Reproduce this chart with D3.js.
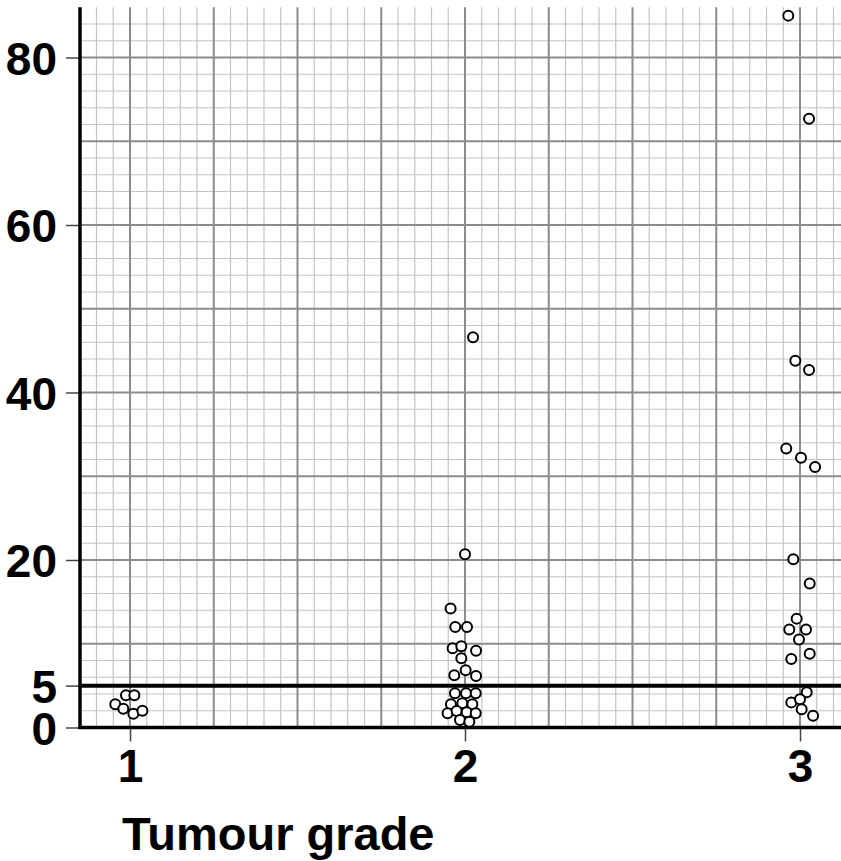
<!DOCTYPE html>
<html>
<head>
<meta charset="utf-8">
<script src="https://cdn.jsdelivr.net/npm/d3@7"></script>
<style>
  html, body { margin: 0; padding: 0; background: #fff; }
  svg { display: block; }
  text { font-family: "Liberation Sans", Arial, sans-serif; font-weight: bold; fill: #000; }
</style>
</head>
<body>
<svg id="chart" width="841" height="861"></svg>
<script>
/* ── data ────────────────────────────────────────────────────────── */

const grades = [1, 2, 3];
const yTicks = [0, 5, 20, 40, 60, 80];
const threshold = 5;
const xTitle = 'Tumour grade';

// jittered grade position / measured value, one pair per patient
const grade1X = [0.988, 1.013, 0.956, 0.980, 1.010, 1.037];
const grade1Y = [3.84, 3.84, 2.77, 2.24, 1.65, 2.00];

const grade2X = [2.024, 2.000, 1.957, 1.971, 2.006, 1.963, 1.989, 2.033, 1.989, 2.002,
                 1.968, 2.033, 1.970, 2.003, 2.032, 1.958, 1.992, 2.022, 1.948, 1.975,
                 2.005, 2.032, 1.985, 2.013];
const grade2Y = [46.6, 20.7, 14.2, 12.0, 12.0, 9.46, 9.70, 9.17, 8.26, 6.83,
                 6.23, 6.15, 4.08, 4.08, 4.08, 2.77, 2.89, 2.77, 1.70, 1.97,
                 1.81, 1.70, 0.90, 0.69];

const grade3X = [2.965, 3.027, 2.986, 3.027, 2.959, 3.003, 3.045, 2.980, 3.029, 2.990,
                 2.968, 3.018, 2.997, 3.029, 2.974, 3.020, 2.974, 3.000, 3.005, 3.039];
const grade3Y = [85.0, 72.7, 43.8, 42.7, 33.3, 32.2, 31.1, 20.1, 17.2, 13.0,
                 11.7, 11.7, 10.5, 8.81, 8.18, 4.20, 3.00, 3.37, 2.17, 1.41];

/* ── layout ──────────────────────────────────────────────────────── */

const W = 841, H = 861;
const plotLeft = 80, plotTop = 7.3, plotBottom = 727.5;

const svg = d3.select('#chart');

const x = d3.scaleLinear().domain([1, 3]).range([130, 800]);
const y = d3.scaleLinear().domain([0, 80]).range([plotBottom, 57.5]);

const xMax = x.invert(W);
const yMax = y.invert(plotTop);

/* ── graph-paper grid ────────────────────────────────────────────── */

const grid = svg.append('g').attr('class', 'grid');
const snap = v => Math.round(v * 1000) / 1000;

const vMinor = d3.range(0.85, xMax, 0.05).map(snap).filter(v => Math.round(v * 100) % 25 !== 0);
const vMajor = d3.range(1, xMax, 0.25).map(snap);
const hMinor = d3.range(2, yMax, 2).filter(v => v % 10 !== 0);
const hMajor = d3.range(10, yMax, 10);

grid.selectAll('line.vmin').data(vMinor).join('line')
  .attr('class', 'vmin')
  .attr('x1', d => x(d)).attr('x2', d => x(d))
  .attr('y1', plotTop).attr('y2', plotBottom)
  .attr('stroke', '#c4c4c4').attr('stroke-width', 1.2);

grid.selectAll('line.hmin').data(hMinor).join('line')
  .attr('class', 'hmin')
  .attr('x1', plotLeft).attr('x2', W)
  .attr('y1', d => y(d)).attr('y2', d => y(d))
  .attr('stroke', '#c4c4c4').attr('stroke-width', 1.2);

grid.selectAll('line.vmaj').data(vMajor).join('line')
  .attr('class', 'vmaj')
  .attr('x1', d => x(d)).attr('x2', d => x(d))
  .attr('y1', plotTop).attr('y2', plotBottom)
  .attr('stroke', '#8c8c8c').attr('stroke-width', 2);

grid.selectAll('line.hmaj').data(hMajor).join('line')
  .attr('class', 'hmaj')
  .attr('x1', plotLeft).attr('x2', W)
  .attr('y1', d => y(d)).attr('y2', d => y(d))
  .attr('stroke', '#8c8c8c').attr('stroke-width', 2);

/* ── threshold line ──────────────────────────────────────────────── */

svg.append('line')
  .attr('x1', plotLeft).attr('x2', W)
  .attr('y1', y(threshold)).attr('y2', y(threshold))
  .attr('stroke', '#000').attr('stroke-width', 4);

/* ── axes ────────────────────────────────────────────────────────── */

const yAxis = svg.append('g')
  .attr('transform', `translate(${plotLeft},0)`)
  .call(d3.axisLeft(y).tickValues(yTicks).tickSize(14).tickPadding(9).tickFormat(d3.format('d')));
yAxis.select('.domain').remove();
yAxis.selectAll('.tick line').attr('stroke', '#444').attr('stroke-width', 1.5);
yAxis.selectAll('.tick text').attr('font-size', 46).attr('dy', '0.36em');

const xAxis = svg.append('g')
  .attr('transform', `translate(0,${plotBottom})`)
  .call(d3.axisBottom(x).tickValues(grades).tickSize(14).tickPadding(8).tickFormat(d3.format('d')));
xAxis.select('.domain').remove();
xAxis.selectAll('.tick line').attr('stroke', '#444').attr('stroke-width', 1.5);
xAxis.selectAll('.tick text').attr('font-size', 46).attr('dy', '0.71em');

svg.append('line')
  .attr('x1', plotLeft).attr('x2', plotLeft)
  .attr('y1', plotTop).attr('y2', plotBottom + 1.5)
  .attr('stroke', '#000').attr('stroke-width', 3.5);

svg.append('line')
  .attr('x1', plotLeft - 1.5).attr('x2', W)
  .attr('y1', plotBottom).attr('y2', plotBottom)
  .attr('stroke', '#000').attr('stroke-width', 3.5);

svg.append('text')
  .attr('x', 122).attr('y', 850)
  .attr('font-size', 47)
  .text(xTitle);

/* ── points ──────────────────────────────────────────────────────── */

const points = [
  ...grade1X.map((g, i) => ({ g, v: grade1Y[i] })),
  ...grade2X.map((g, i) => ({ g, v: grade2Y[i] })),
  ...grade3X.map((g, i) => ({ g, v: grade3Y[i] })),
];

svg.append('g').attr('class', 'points')
  .selectAll('circle').data(points).join('circle')
  .attr('cx', d => x(d.g))
  .attr('cy', d => y(d.v))
  .attr('r', 5)
  .attr('fill', '#fff')
  .attr('stroke', '#000')
  .attr('stroke-width', 2);
</script>
</body>
</html>
